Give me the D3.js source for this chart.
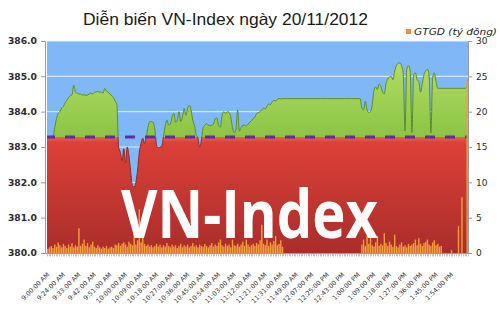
<!DOCTYPE html>
<html><head><meta charset="utf-8">
<script src="https://cdn.jsdelivr.net/npm/d3@7"></script>
<style>body{margin:0;background:#fff}svg{display:block}</style>
</head><body><svg id="c" width="500" height="313"></svg>
<script>
const titleText = "Diễn biến VN-Index ngày 20/11/2012";
const legendText = "GTGD (tỷ đồng)";
const watermarkText = "VN-Index";
const refValue = 383.28;
const indexTicks = [380, 381, 382, 383, 384, 385, 386];
const volumeTicks = [0, 5, 10, 15, 20, 25, 30];
const labelEvery = 9;
const timeLabels = ["9:00:00 AM","9:24:00 AM","9:33:00 AM","9:42:00 AM","9:51:00 AM","10:00:00 AM","10:09:00 AM","10:18:00 AM","10:27:00 AM","10:36:00 AM","10:45:00 AM","10:54:00 AM","11:03:00 AM","11:12:00 AM","11:21:00 AM","11:31:00 AM","11:49:00 AM","12:07:00 PM","12:25:00 PM","12:43:00 PM","1:00:00 PM","1:09:00 PM","1:18:00 PM","1:27:00 PM","1:36:00 PM","1:45:00 PM","1:54:00 PM"];

const indexValues = [
383.28,383.28,383.30,383.32,383.55,383.80,383.95,384.00,384.10,384.15,
384.25,384.32,384.40,384.45,384.48,384.75,384.55,384.52,384.50,384.50,
384.47,384.48,384.46,384.47,384.50,384.52,384.50,384.55,384.56,384.57,
384.55,384.56,384.52,384.66,384.58,384.55,384.50,384.45,384.40,384.30,
384.20,383.00,382.85,382.60,382.95,382.55,383.00,382.75,382.30,381.90,
381.86,382.00,382.35,382.85,383.10,383.25,383.10,383.28,383.55,383.71,
383.72,383.70,383.50,383.05,382.98,383.00,383.02,383.30,383.60,383.76,
383.62,383.65,383.85,383.95,383.70,383.75,384.00,383.72,383.85,384.09,
383.90,384.10,384.18,384.05,383.75,383.60,383.35,383.25,383.00,383.20,
383.55,383.62,383.66,383.62,383.60,383.62,383.65,383.80,383.82,383.60,
383.57,383.90,384.00,383.95,384.00,383.98,383.85,383.55,383.40,383.50,
384.05,383.45,383.55,383.61,383.62,383.60,383.65,383.70,383.75,383.80,
383.85,383.95,383.97,384.00,384.05,384.10,384.08,384.15,384.22,384.20,
384.28,384.32,384.30,384.35,384.37,384.36,
384.37,384.37,384.37,384.37,384.37,384.37,384.37,384.37,384.37,384.37,
384.37,384.37,384.37,384.37,384.37,384.37,384.37,384.37,384.37,384.37,
384.37,384.37,384.37,384.37,384.37,384.37,384.37,384.37,384.37,384.37,
384.37,384.37,384.37,384.37,384.37,384.37,384.37,384.37,384.37,384.37,
384.37,384.37,384.37,384.37,384.37,384.37,
384.10,384.05,384.30,384.05,383.98,384.00,384.20,384.60,384.70,384.62,
384.78,384.72,384.55,384.50,384.80,384.92,384.98,385.00,384.90,385.15,
385.30,385.37,385.38,385.30,385.05,383.45,385.20,385.30,385.15,383.40,
385.05,385.10,384.90,384.85,384.55,384.80,385.05,385.15,385.20,385.00,
383.40,384.95,385.10,384.85,
384.66,384.66,384.66,384.66,384.66,384.66,384.66,384.66,384.66,384.66,
384.66,384.66,384.66,384.66,384.66,384.66,384.66,
384.90
];

const volumes = [
0.6,0.8,1.0,0.7,1.2,0.9,1.5,1.1,0.8,1.3,
1.0,0.7,1.2,0.9,1.4,0.8,1.1,0.9,3.5,1.0,
1.3,1.9,1.0,1.4,0.8,1.2,1.6,0.9,0.7,1.1,
0.8,0.6,0.9,0.7,1.0,0.6,0.8,0.9,0.7,1.2,
1.1,1.4,1.0,1.3,1.5,1.2,0.9,1.6,1.3,1.1,
2.8,1.2,1.8,6.2,1.5,4.6,1.3,1.0,1.2,0.9,
1.1,0.8,1.0,1.3,0.9,1.2,0.8,1.1,0.9,1.4,
1.0,0.8,1.2,0.9,1.1,0.7,1.0,1.3,0.8,1.1,
0.9,1.2,0.8,1.0,1.4,0.9,1.1,0.8,1.2,1.0,
0.9,1.3,1.0,0.8,1.1,1.4,0.9,1.2,1.0,1.5,
1.9,1.1,0.9,1.3,1.0,1.2,0.8,1.9,1.1,1.0,
1.3,0.9,1.2,1.6,1.0,1.9,1.2,0.9,1.1,1.3,
1.0,1.4,1.2,1.8,4.0,1.3,1.1,1.9,1.0,1.5,
1.2,1.7,2.4,1.1,1.3,1.8,0.9,
0,0,0,0,0,0,0,0,0,0,
0,0,0,0,0,0,0,0,0,0,
0,0,0,0,0,0,0,0,0,0,
0,0,0,0,0,0,0,0,0,0,
0,0,0,0,0,
1.2,1.9,1.0,2.4,1.3,2.8,1.1,0.9,1.5,2.4,
1.0,1.3,1.1,2.8,1.4,1.0,1.6,1.2,0.9,2.6,
1.0,0.8,1.2,1.5,0.9,1.1,0.8,1.3,1.0,1.2,
1.4,1.9,1.1,2.1,1.3,1.0,1.4,1.6,1.9,1.2,
1.0,1.5,1.8,1.1,1.3,0.9,1.0,
0,0,0,0,0,0.4,0,0,0,3.8,0,7.9,0,0,24.4
];

const svg = d3.select('#c');
const L = 47, R = 468, T = 41, B = 253;
const n = indexValues.length;
const x = d3.scaleBand().domain(d3.range(n)).range([L, R]);
const bw = x.bandwidth();
const y = d3.scaleLinear().domain([380, 386]).range([B, T]);
const y2 = d3.scaleLinear().domain([0, 30]).range([B, T]);
const yr = y(refValue);
const cx = i => i === 0 ? L : (i === n - 1 ? R : x(i) + bw / 2);

const defs = svg.append('defs');
const gRed = defs.append('linearGradient').attr('id','gRed')
  .attr('gradientUnits','userSpaceOnUse').attr('x1',0).attr('x2',0).attr('y1', yr).attr('y2', B);
gRed.append('stop').attr('offset',0).attr('stop-color','#ea5e52');
gRed.append('stop').attr('offset',0.05).attr('stop-color','#dc4038');
gRed.append('stop').attr('offset',1).attr('stop-color','#aa2d2a');
const gGreen = defs.append('linearGradient').attr('id','gGreen')
  .attr('gradientUnits','userSpaceOnUse').attr('x1',0).attr('x2',0).attr('y1', y(385.4)).attr('y2', yr);
gGreen.append('stop').attr('offset',0).attr('stop-color','#b2dc66');
gGreen.append('stop').attr('offset',1).attr('stop-color','#8cc444');
defs.append('clipPath').attr('id','above').append('rect').attr('x',L).attr('y',T).attr('width',R-L).attr('height',yr-T);
defs.append('clipPath').attr('id','below').append('rect').attr('x',L).attr('y',yr).attr('width',R-L).attr('height',B-yr);

// background
svg.append('rect').attr('x',L).attr('y',T).attr('width',R-L).attr('height',B-T).attr('fill','#80b8f7');
// gridlines
svg.append('g').selectAll('line').data(indexTicks.slice(1)).join('line')
  .attr('x1',L).attr('x2',R).attr('y1',d=>y(d)).attr('y2',d=>y(d))
  .attr('stroke','#e6efff').attr('stroke-width',1);

const idx = d3.range(n);
const area = d3.area().curve(d3.curveMonotoneX).x(cx).y0(B).y1(i => y(indexValues[i]));
const line = d3.line().curve(d3.curveMonotoneX).x(cx).y(i => y(indexValues[i]));

svg.append('path').attr('d', area(idx)).attr('fill','url(#gGreen)').attr('clip-path','url(#above)');
svg.append('path').attr('d', line(idx)).attr('fill','none').attr('stroke','#5c8c24').attr('stroke-width',1).attr('clip-path','url(#above)');
svg.append('path').attr('d', area(idx)).attr('fill','url(#gRed)').attr('clip-path','url(#below)');
svg.append('path').attr('d', line(idx)).attr('fill','none').attr('stroke','#8e2a26').attr('stroke-width',1).attr('clip-path','url(#below)');

// reference dashed line
svg.append('line').attr('x1',L).attr('x2',R).attr('y1',yr).attr('y2',yr)
  .attr('stroke','#5a2ea6').attr('stroke-width',3).attr('stroke-dasharray','10,10').attr('stroke-dashoffset',2);

// volume bars
svg.append('g').selectAll('rect').data(idx.filter(i => volumes[i] > 0)).join('rect')
  .attr('x', i => x(i) + bw*0.1).attr('width', bw*0.8)
  .attr('y', i => y2(volumes[i])).attr('height', i => B - y2(volumes[i]))
  .attr('fill','#f6a03c');

// watermark
svg.append('text').attr('x',121).attr('y',238).text(watermarkText)
  .attr('font-family','"Open Sans", sans-serif').attr('font-weight',700).attr('font-size',66)
  .attr('fill','#ffffff').attr('textLength',257).attr('lengthAdjust','spacingAndGlyphs');

// left axis
const ax = svg.append('g').attr('transform',`translate(${L-2},0)`)
  .call(d3.axisLeft(y).tickValues(indexTicks).tickFormat(d3.format('.1f')).tickSize(4).tickPadding(4));
ax.select('.domain').attr('stroke','#9a9a9a');
ax.selectAll('.tick line').attr('stroke','#9a9a9a');
ax.selectAll('text').attr('font-family','"DejaVu Sans", sans-serif').attr('font-weight','bold').attr('font-size',9.2).attr('fill','#2a2a2a');

// right axis
const ar = svg.append('g').attr('transform',`translate(${R},0)`)
  .call(d3.axisRight(y2).tickValues(volumeTicks).tickSize(4).tickPadding(4));
ar.select('.domain').attr('stroke','#9a9a9a');
ar.selectAll('.tick line').attr('stroke','#9a9a9a');
ar.selectAll('text').attr('font-family','"DejaVu Sans", sans-serif').attr('font-size',9).attr('fill','#2a2a2a');

// bottom axis
const gb = svg.append('g');
gb.append('line').attr('x1',L-2).attr('x2',R).attr('y1',B+0.5).attr('y2',B+0.5).attr('stroke','#9a9a9a');
gb.selectAll('line.t').data(d3.range(n+1)).join('line').attr('class','t')
  .attr('x1', i => Math.round(L + i*bw) + 0.5).attr('x2', i => Math.round(L + i*bw) + 0.5)
  .attr('y1', B).attr('y2', B + 3.5).attr('stroke','#a0a0a0').attr('stroke-width',0.6);
gb.selectAll('text').data(timeLabels).join('text')
  .attr('transform', (d,k) => `translate(${x(k*labelEvery) + bw/2 + 2},${B+22}) rotate(-45)`)
  .attr('text-anchor','end').attr('font-family','"DejaVu Sans", sans-serif').attr('font-size',6.4)
  .attr('fill','#333').text(d => d);

// title
svg.append('text').attr('x',83).attr('y',25).text(titleText)
  .attr('font-family','"Liberation Sans", Arial, sans-serif').attr('font-size',16.5).attr('fill','#1a1a1a')
  .attr('textLength',285).attr('lengthAdjust','spacingAndGlyphs');

// legend
svg.append('rect').attr('x',406).attr('y',29).attr('width',5).attr('height',5).attr('fill','#f28a3a');
svg.append('text').attr('x',414).attr('y',35).text(legendText)
  .attr('font-family','"DejaVu Sans", sans-serif').attr('font-style','italic').attr('font-size',9).attr('fill','#222')
  .attr('textLength',83).attr('lengthAdjust','spacingAndGlyphs');
</script></body></html>
